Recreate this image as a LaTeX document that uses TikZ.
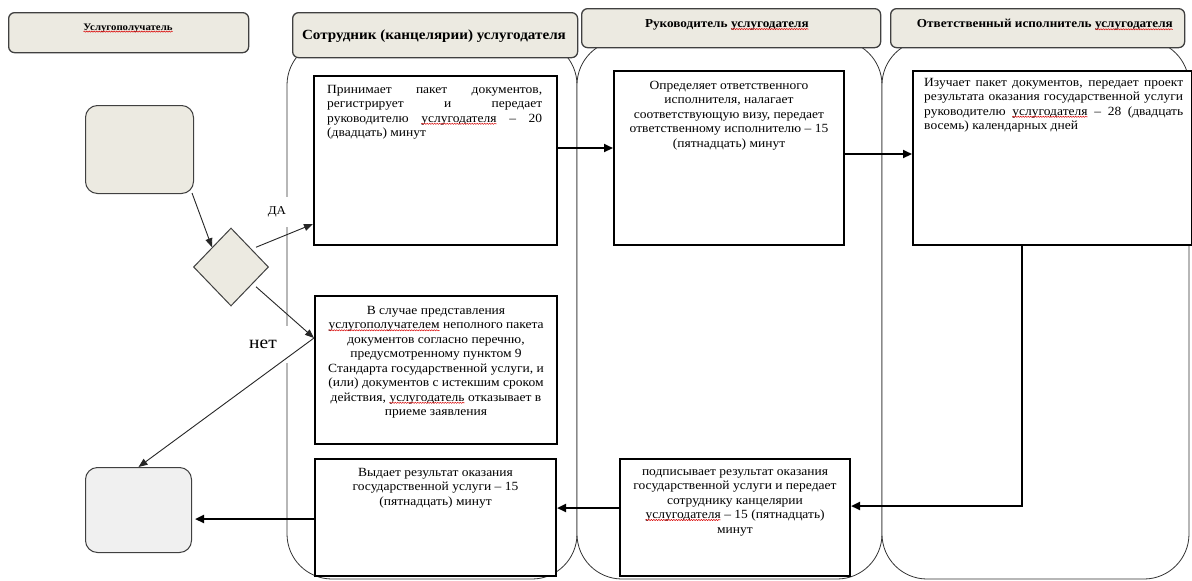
\documentclass[tikz,border=0pt]{standalone}
\usepackage{fontspec}
\setmainfont[FakeStretch=1.08]{Liberation Serif}
\usetikzlibrary{arrows.meta,shapes.geometric,decorations.pathmorphing}
\definecolor{beige}{HTML}{ECEAE1}
\definecolor{endgray}{HTML}{F0F0F0}
\definecolor{hdrline}{HTML}{404040}
\newcommand\wavy[1]{\tikz[baseline=(wv.base),x=1pt,y=1pt]{\node[inner sep=0pt,outer sep=0pt] (wv) {#1};\draw[red!85!black,line width=0.5pt,decorate,decoration={snake,amplitude=0.6pt,segment length=2.5pt}] ([yshift=-1.4pt]wv.base west) -- ([yshift=-1.4pt]wv.base east);}}
\begin{document}
\begin{tikzpicture}[x=1pt,y=-1pt,
  hdr/.style={draw=hdrline,line width=1.3pt,rounded corners=6pt,fill=beige,inner sep=0pt},
  hdrtext/.style={font=\bfseries\fontsize{12.2}{14}\selectfont,inner sep=0pt},
  lane/.style={draw=black!80,line width=0.8pt,rounded corners=45pt,fill=white},
  task/.style={draw=black,line width=2pt,inner sep=0pt,fill=white},
  body/.style={font=\fontsize{12.5}{14.5}\selectfont,inner sep=0pt},
  thin arrow/.style={draw=black!85,line width=0.9pt,-{Triangle[length=9pt,width=7pt]}},
  thick arrow/.style={draw=black,line width=2.2pt,-{Triangle[length=9pt,width=8pt]}},
  lbl/.style={fill=white,inner sep=0pt}
]
\useasboundingbox (0,0) rectangle (1192,581);
\fill[white] (0,0) rectangle (1192,581);

% lanes
\draw[lane] (287,40) rectangle (577,579);
\draw[lane] (577,40) rectangle (882,579);
\draw[lane] (882,40) rectangle (1189,579);

% headers
\node[hdr,minimum width=240pt,minimum height=40pt,anchor=north west] (H1) at (8,12) {};
\node[hdrtext,font=\bfseries\fontsize{10}{12}\selectfont] (H1t) at (128,28) {\wavy{Услугополучатель}};
\node[hdr,minimum width=285pt,minimum height=45pt,anchor=north west] (H2) at (292,12) {};
\node[hdrtext,font=\bfseries\fontsize{14}{16}\selectfont] (H2t) at (434,36) {Сотрудник (канцелярии) услугодателя};
\node[hdr,minimum width=299pt,minimum height=39pt,anchor=north west] (H3) at (581,8) {};
\node[hdrtext] (H3t) at (727,25) {Руководитель \wavy{услугодателя}};
\node[hdr,minimum width=294pt,minimum height=39pt,anchor=north west] (H4) at (890,8) {};
\node[hdrtext] (H4t) at (1045,25) {Ответственный исполнитель \wavy{услугодателя}};

% labels (white boxes that break the lane line)
\node[lbl,minimum width=36pt,minimum height=30pt] (yes) at (277,212) {\fontsize{12}{14}\selectfont ДА};
\node[lbl,minimum width=54pt,minimum height=37pt] (no) at (263,344) {\fontsize{18}{20}\selectfont нет};

% start, decision, end
\node[draw=hdrline,line width=1pt,rounded corners=12pt,fill=beige,minimum width=108pt,minimum height=88pt,anchor=north west] (S) at (85,105) {};
\node[draw=hdrline,line width=1pt,diamond,fill=beige,minimum width=75pt,minimum height=78pt,inner sep=0pt] (Dm) at (231,267) {};
\node[draw=hdrline,line width=1pt,rounded corners=12pt,fill=endgray,minimum width=106pt,minimum height=85pt,anchor=north west] (End) at (85,467) {};

% task boxes
\node[task,minimum width=243pt,minimum height=169pt,anchor=north west] (A) at (313,75) {};
\node[body,anchor=north west,text width=215pt,align=justify] (At) at ([xshift=14pt,yshift=-10pt]A.north west)
 {Принимает пакет документов,\linebreak регистрирует и передает\linebreak руководителю \wavy{услугодателя} – 20\linebreak (двадцать) минут};

\node[task,minimum width=230pt,minimum height=174pt,anchor=north west] (B) at (613,70) {};
\node[body,anchor=north,align=center] (Bt) at ([yshift=-11pt]B.north)
 {Определяет ответственного\\исполнителя, налагает\\соответствующую визу, передает\\ответственному исполнителю – 15\\(пятнадцать) минут};

\node[task,minimum width=279pt,minimum height=174pt,anchor=north west] (C) at (912,70) {};
\node[body,anchor=north west,text width=259pt,align=justify] (Ct) at ([xshift=12pt,yshift=-8pt]C.north west)
 {Изучает пакет документов, передает проект\linebreak результата оказания государственной услуги\linebreak руководителю \wavy{услугодателя} – 28 (двадцать\linebreak восемь) календарных дней};

\node[task,minimum width=242pt,minimum height=148pt,anchor=north west] (D) at (314,295) {};
\node[body,anchor=north,align=center] (Dt) at ([yshift=-11pt]D.north)
 {В случае представления\\\wavy{услугополучателем} неполного пакета\\документов согласно перечню,\\предусмотренному пунктом 9\\Стандарта государственной услуги, и\\(или) документов с истекшим сроком\\действия, \wavy{услугодатель} отказывает в\\приеме заявления};

\node[task,minimum width=241pt,minimum height=117pt,anchor=north west] (E) at (314,458) {};
\node[body,anchor=north,align=center] (Et) at ([yshift=-10pt]E.north)
 {Выдает результат оказания\\государственной услуги – 15\\(пятнадцать) минут};

\node[task,minimum width=230pt,minimum height=117pt,anchor=north west] (F) at (619,458) {};
\node[body,anchor=north,align=center] (Ft) at ([yshift=-11pt]F.north)
 {подписывает результат оказания\\государственной услуги и передает\\сотруднику канцелярии\\\wavy{услугодателя} – 15 (пятнадцать)\\минут};

% connectors
\draw[thin arrow] ([xshift=-2pt,yshift=1pt]S.south east) -- (Dm.north west);
\draw[thin arrow] ([xshift=6pt]Dm.north east) -- ([yshift=22pt]A.south west);
\draw[thin arrow] ([xshift=6pt]Dm.south east) -- ([yshift=-43pt]D.north west);
\draw[thin arrow] ([yshift=-43pt]D.north west) -- (End.north);

\draw[thick arrow] ([yshift=-73pt]A.north east) -- ([yshift=-73pt]A.north east -| B.west);
\draw[thick arrow] ([yshift=-84pt]B.north east) -- ([yshift=-84pt]B.north east -| C.west);
\draw[thick arrow] ([xshift=110pt]C.south west) |- ([yshift=-48pt]F.north east);
\draw[thick arrow] ([yshift=-50pt]F.north west) -- ([yshift=-50pt]F.north west -| E.east);
\draw[thick arrow,shorten >=3pt] ([yshift=-61pt]E.north west) -- ([yshift=-61pt]E.north west -| End.east);
\end{tikzpicture}
\end{document}
